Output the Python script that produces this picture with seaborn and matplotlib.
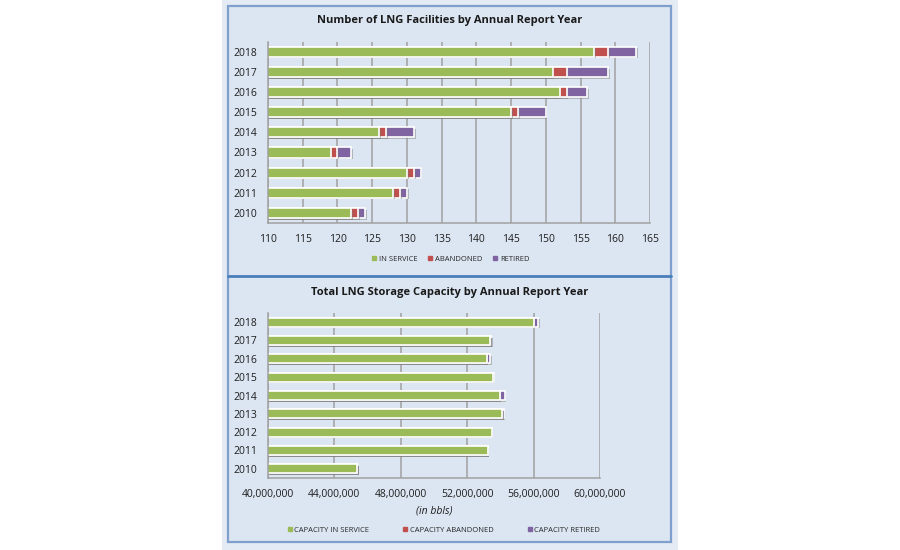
import pandas as pd
import seaborn as sns
import matplotlib.pyplot as plt
import matplotlib.patheffects as pe
from matplotlib.patches import Rectangle
from matplotlib.lines import Line2D
from matplotlib.ticker import FuncFormatter

# Data
years = ["2018", "2017", "2016", "2015", "2014", "2013", "2012", "2011", "2010"]
fac_in_service = [157, 151, 152, 145, 126, 119, 130, 128, 122]
fac_abandoned = [2, 2, 1, 1, 1, 1, 1, 1, 1]
fac_retired = [4, 6, 3, 4, 4, 2, 1, 1, 1]

cap_in_service = [56_000_000, 53_390_000, 53_180_000, 53_530_000, 53_960_000,
                  54_110_000, 53_470_000, 53_230_000, 45_370_000]
cap_abandoned = [0, 0, 0, 0, 0, 0, 0, 0, 0]
cap_retired = [280_000, 60_000, 220_000, 60_000, 300_000, 80_000, 0, 0, 0]

GREEN, RED, PURPLE = "#9bbb59", "#c0504d", "#8064a2"
PANEL = "#dce6f2"
GRID = "#a0a0a0"

sns.set_theme(style="white")
plt.rcParams["font.family"] = ["Open Sans", "DejaVu Sans"]

fig = plt.figure(figsize=(9, 5.5), dpi=100)
W, H = 900, 550


def fx(px):
    return px / W


def fy(py):
    return 1 - py / H


# panel backgrounds
fig.patches.append(Rectangle((fx(222), 0), fx(456), 1, transform=fig.transFigure,
                             fc="#e4ebf4", ec="none", zorder=-3))
fig.patches.append(Rectangle((fx(228), fy(542)), fx(443), (542 - 5.5) / H,
                             transform=fig.transFigure, fc=PANEL, ec="#7f9fcd",
                             lw=1.6, zorder=-2))
fig.lines.append(Line2D([fx(228), fx(671)], [fy(275.5), fy(275.5)],
                        transform=fig.transFigure, color="#4a7ebb", lw=2, zorder=-1))


def stacked(ax, service, abandoned, retired, width):
    df = pd.DataFrame({"Year": years, "Service": service,
                       "Abandoned": abandoned, "Retired": retired})
    df["Total"] = df["Service"] + df["Abandoned"] + df["Retired"]
    df["SA"] = df["Service"] + df["Abandoned"]
    shadow = [pe.SimplePatchShadow(offset=(1.2, -1.2), shadow_rgbFace="#7a7a7a", alpha=0.45),
              pe.Normal()]
    for col, c in [("Total", PURPLE), ("SA", RED), ("Service", GREEN)]:
        sns.barplot(data=df, x=col, y="Year", order=years, orient="h", color=c,
                    width=width, edgecolor="white", linewidth=1.2, saturation=1,
                    ax=ax)
    for p in ax.patches:
        p.set_path_effects(shadow)


def style_axis(ax):
    ax.set_zorder(3)
    ax.set_facecolor("none")
    ax.set_axisbelow(True)
    ax.grid(axis="x", color=GRID, lw=1.1)
    ax.grid(axis="y", visible=False)
    for s in ["top", "right"]:
        ax.spines[s].set_visible(False)
    for s in ["left", "bottom"]:
        ax.spines[s].set_color(GRID)
        ax.spines[s].set_linewidth(1.1)
    ax.tick_params(axis="y", length=0, pad=8, labelsize=7.5, labelcolor="#1e1e1e")
    ax.tick_params(axis="x", length=3, width=1.1, color=GRID, direction="out",
                   pad=5, labelsize=7.5, labelcolor="#1e1e1e")
    ax.set_ylabel("")


# top chart
ax1 = fig.add_axes([fx(268), fy(223), fx(650 - 268), (223 - 41.7) / H])
stacked(ax1, fac_in_service, fac_abandoned, fac_retired, 0.5)
style_axis(ax1)
ax1.set_xlim(110, 165)
ax1.set_xticks(range(110, 166, 5))
ax1.set_xlabel("")
fig.text(fx(449.5), fy(21), "Number of LNG Facilities by Annual Report Year",
         ha="center", va="center", fontsize=8, fontweight="bold", color="#1a1a1a")


def sq(c):
    return Line2D([], [], marker="s", color=c, linestyle="none", markersize=3.5)


fig.legend([sq(GREEN), sq(RED), sq(PURPLE)], ["IN SERVICE", "ABANDONED", "RETIRED"],
           loc="center", bbox_to_anchor=(fx(450), fy(259)), ncol=3, frameon=False,
           fontsize=5.5, handletextpad=0.1, columnspacing=1.2, handlelength=1)

# bottom chart
ax2 = fig.add_axes([fx(268), fy(478), fx(600 - 268), (478 - 313) / H])
stacked(ax2, cap_in_service, cap_abandoned, cap_retired, 0.5)
style_axis(ax2)
ax2.set_xlim(40_000_000, 60_000_000)
ax2.set_xticks(range(40_000_000, 60_000_001, 4_000_000))
ax2.xaxis.set_major_formatter(FuncFormatter(lambda v, _: f"{v:,.0f}"))
ax2.set_xlabel("(in bbls)", fontsize=7.5, style="italic", color="#1e1e1e", labelpad=4)
fig.text(fx(449.5), fy(292), "Total LNG Storage Capacity by Annual Report Year",
         ha="center", va="center", fontsize=8, fontweight="bold", color="#1a1a1a")
fig.legend([sq(GREEN), sq(RED), sq(PURPLE)],
           ["CAPACITY IN SERVICE", "CAPACITY ABANDONED", "CAPACITY RETIRED"],
           loc="center", bbox_to_anchor=(fx(443), fy(530)), ncol=3, frameon=False,
           fontsize=5.5, handletextpad=0.1, columnspacing=4.2, handlelength=1)

fig.savefig("out.png", dpi=100, facecolor="white")
